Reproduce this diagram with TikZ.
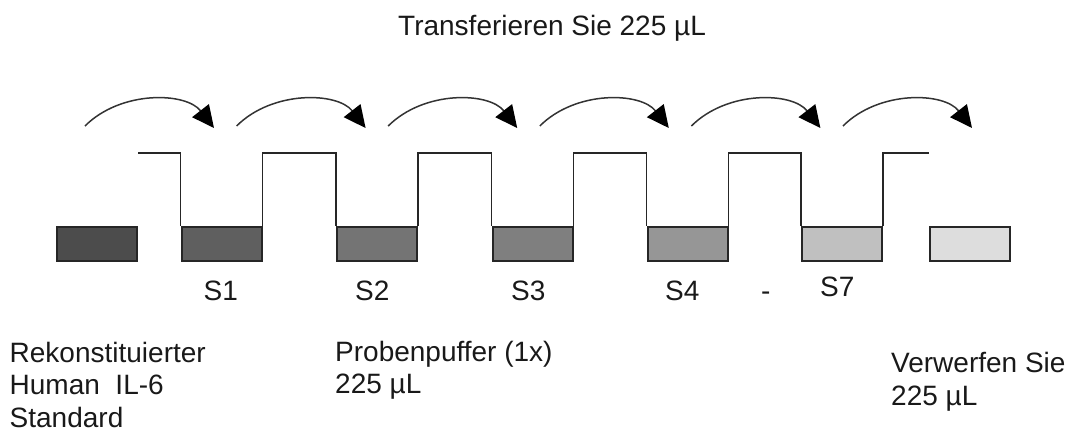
\documentclass[tikz,border=0pt]{standalone}
\usepackage{fontspec}
\setmainfont{Liberation Sans}
\usetikzlibrary{arrows.meta}
\definecolor{c0}{HTML}{4C4C4C}
\definecolor{c1}{HTML}{5F5F5F}
\definecolor{c2}{HTML}{747474}
\definecolor{c3}{HTML}{7F7F7F}
\definecolor{c4}{HTML}{969696}
\definecolor{c5}{HTML}{C0C0C0}
\definecolor{c6}{HTML}{DDDDDD}
\begin{document}
\begin{tikzpicture}[x=1pt,y=-1pt,
  tube/.style={draw=black!85,line width=2pt,minimum width=80pt,minimum height=34pt,inner sep=0pt},
  stair/.style={draw=black!85,line width=1.6pt},
  transfer/.style={draw=black!80,line width=1.5pt,-{Triangle[length=22pt,width=21pt,color=black]}},
  lbl/.style={inner sep=0pt,anchor=base west,font=\fontsize{28}{32.5}\selectfont,text=black!90},
  mlbl/.style={lbl,align=left}]
\useasboundingbox (0,0) rectangle (1072,437);
% tubes
\node[tube,fill=c0] (r0) at (97,244) {};
\node[tube,fill=c1] (s1) at (221.5,244) {};
\node[tube,fill=c2] (s2) at (377,244) {};
\node[tube,fill=c3] (s3) at (532.5,244) {};
\node[tube,fill=c4] (s4) at (687.5,244) {};
\node[tube,fill=c5] (s7) at (842,244) {};
\node[tube,fill=c6] (r6) at (969.5,244) {};
% stairs
\draw[stair] (r0.east |- 0,153) -- (s1.west |- 0,153) -- (s1.north west);
\draw[stair] (s1.north east) -- (s1.east |- 0,153) -- (s2.west |- 0,153) -- (s2.north west);
\draw[stair] (s2.north east) -- (s2.east |- 0,153) -- (s3.west |- 0,153) -- (s3.north west);
\draw[stair] (s3.north east) -- (s3.east |- 0,153) -- (s4.west |- 0,153) -- (s4.north west);
\draw[stair] (s4.north east) -- (s4.east |- 0,153) -- (s7.west |- 0,153) -- (s7.north west);
\draw[stair] (s7.north east) -- (s7.east |- 0,153) -- (r6.west |- 0,153);
% transfer arrows
\foreach \i in {0,...,5}{
  \coordinate (a\i) at ({85+151.6*\i},126);
  \coordinate (b\i) at ({214+151.6*\i},128);
  \draw[transfer] (a\i) .. controls +(36,-36) and +(-28,-36) .. (b\i);
}
% labels
\node[lbl] (title) at (398,35.7) {Transferieren Sie 225 µL};
\node[lbl] (l1) at (203.5,300) {S1};
\node[lbl] (l2) at (355,300) {S2};
\node[lbl] (l3) at (511,300) {S3};
\node[lbl] (l4) at (665,300) {S4};
\node[lbl] (ldash) at (761,300) {-};
\node[lbl] (l7) at (820,296) {S7};
\node[mlbl] (std) at (9.5,427.3) {Rekonstituierter\\Human~ IL-6\\Standard};
\node[mlbl] (buf) at (335,393.5) {Probenpuffer (1x)\\225 µL};
\node[mlbl] (disc) at (891,405) {Verwerfen Sie\\225 µL};
\end{tikzpicture}
\end{document}
